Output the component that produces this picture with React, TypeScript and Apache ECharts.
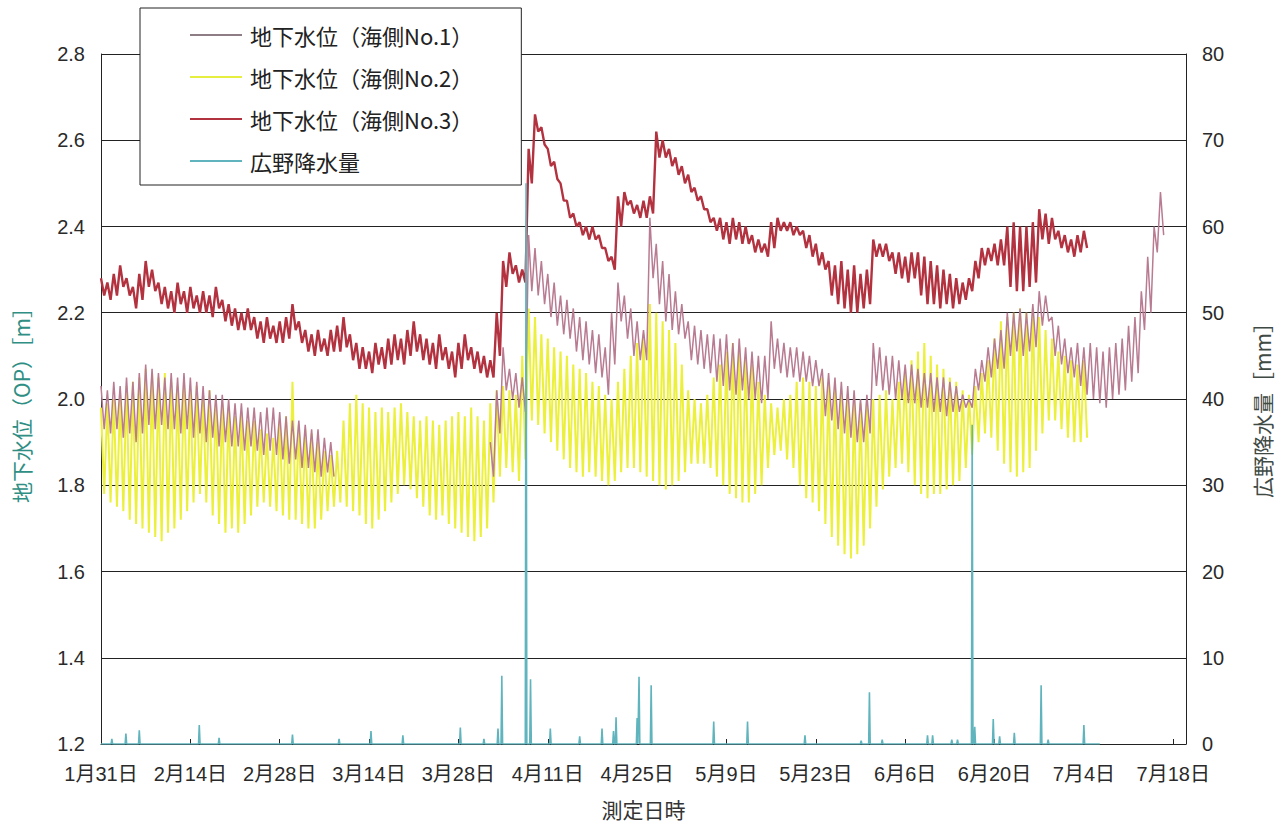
import React, { useEffect, useRef } from "react";
import * as echarts from "echarts";

// Day index 0 = 1月31日; one high/low pair per day (tidal swing).
// null = the No.1 trace is not visible in the chart for that day.
const no1Hi = [
  2.03, 2.02, 2.04, 2.03, 2.05, 2.04, 2.06, 2.08, 2.07, 2.06,
  2.05, 2.06, 2.05, 2.06, 2.05, 2.04, 2.03, 2.02, 2.01, 2.01,
  2.00, 1.99, 1.99, 1.98, 1.98, 1.97, 1.98, 1.98, 1.97, 1.96,
  1.95, 1.95, 1.94, 1.93, 1.93, 1.91, 1.90, null, null, null,
  null, null, null, null, null, null, null, null, null, null,
  null, null, null, null, null, null, null, null, null, null,
  null, 1.90, 2.02, 2.12, 2.07, 2.06, 2.05, 2.38, 2.35, 2.32,
  2.29, 2.27, 2.24, 2.23, 2.21, 2.19, 2.18, 2.16, 2.15, 2.12,
  2.20, 2.27, 2.24, 2.21, 2.18, 2.16, 2.42, 2.36, 2.32, 2.29,
  2.25, 2.22, 2.18, 2.17, 2.16, 2.15, 2.15, 2.14, 2.15, 2.13,
  2.14, 2.12, 2.11, 2.10, 2.10, 2.18, 2.14, 2.13, 2.12, 2.12,
  2.11, 2.10, 2.09, 2.07, 2.06, 2.05, 2.04, 2.03, 2.02, 2.00,
  2.01, 2.13, 2.12, 2.10, 2.10, 2.09, 2.08, 2.08, 2.07, 2.06,
  2.06, 2.05, 2.05, 2.04, 2.03, 2.01, 2.00, 2.07, 2.09, 2.12,
  2.14, 2.16, 2.20, 2.20, 2.21, 2.20, 2.22, 2.25, 2.24, 2.19,
  2.17, 2.14, 2.12, 2.13, 2.12, 2.13, 2.12, 2.11, 2.12, 2.13,
  2.14, 2.17, 2.19, 2.25, 2.33, 2.40, 2.48,
];
const no1Lo = [
  1.93, 1.92, 1.93, 1.91, 1.92, 1.90, 1.92, 1.94, 1.93, 1.94,
  1.93, 1.93, 1.92, 1.93, 1.91, 1.92, 1.90, 1.91, 1.89, 1.90,
  1.89, 1.89, 1.88, 1.89, 1.88, 1.87, 1.88, 1.87, 1.86, 1.85,
  1.86, 1.84, 1.84, 1.83, 1.82, 1.83, 1.82, null, null, null,
  null, null, null, null, null, null, null, null, null, null,
  null, null, null, null, null, null, null, null, null, null,
  null, 1.82, 1.92, 2.02, 2.00, 1.98, 1.97, 2.25, 2.24, 2.22,
  2.19, 2.17, 2.15, 2.14, 2.11, 2.09, 2.08, 2.06, 2.05, 2.01,
  2.08, 2.18, 2.14, 2.10, 2.09, 2.09, 2.28, 2.22, 2.18, 2.16,
  2.15, 2.14, 2.09, 2.08, 2.07, 2.06, 2.04, 2.03, 2.02, 2.01,
  2.02, 2.00, 2.00, 1.99, 2.00, 2.07, 2.06, 2.05, 2.05, 2.04,
  2.04, 2.03, 2.03, 1.96, 1.95, 1.93, 1.92, 1.91, 1.90, 1.90,
  1.92, 2.03, 2.02, 2.01, 2.00, 2.00, 1.99, 1.99, 1.98, 1.98,
  1.97, 1.97, 1.96, 1.97, 1.97, 1.98, 1.98, 2.02, 2.04, 2.05,
  2.07, 2.07, 2.10, 2.11, 2.10, 2.11, 2.12, 2.17, 2.18, 2.10,
  2.08, 2.06, 2.05, 2.03, 2.01, 2.00, 1.99, 1.98, 2.00, 2.01,
  2.02, 2.04, 2.06, 2.16, 2.20, 2.34, 2.38,
];
const no2Hi = [
  1.98, 1.99, 2.00, 2.01, 2.03, 2.04, 2.05, 2.07, 2.06, 2.05,
  2.06, 2.04, 2.03, 2.04, 2.02, 2.03, 2.01, 2.02, 2.00, 1.99,
  1.98, 1.96, 1.97, 1.95, 1.95, 1.93, 1.92, 1.91, 1.95, 1.96,
  2.04, 1.94, 1.93, 1.92, 1.90, 1.88, 1.87, 1.88, 1.95, 1.99,
  2.01, 1.99, 1.98, 1.97, 1.98, 1.97, 1.98, 1.99, 1.97, 1.96,
  1.95, 1.96, 1.95, 1.94, 1.95, 1.96, 1.97, 1.96, 1.98, 1.96,
  1.95, 1.99, 2.02, 2.03, 2.02, 2.01, 2.10, 2.21, 2.19, 2.15,
  2.14, 2.12, 2.11, 2.10, 2.08, 2.07, 2.06, 2.04, 2.03, 2.01,
  2.00, 2.04, 2.07, 2.10, 2.13, 2.15, 2.22, 2.20, 2.18, 2.16,
  2.13, 2.08, 2.02, 2.00, 1.99, 2.01, 2.05, 2.08, 2.11, 2.13,
  2.12, 2.10, 2.08, 2.04, 2.01, 1.99, 1.98, 2.00, 2.01, 2.04,
  2.05, 2.04, 2.03, 2.05, 2.04, 2.03, 2.02, 2.01, 2.00, 1.99,
  1.99, 2.00, 2.01, 2.02, 2.00, 2.04, 2.07, 2.09, 2.11, 2.13,
  2.10, 2.08, 2.07, 2.05, 2.04, 2.02, 2.01, 2.03, 2.06, 2.09,
  2.14, 2.18, 2.19, 2.20, 2.21, 2.20, 2.21, 2.19, 2.16, 2.14,
  2.11, 2.10, 2.09, 2.08, 2.09,
];
const no2Lo = [
  1.78, 1.76, 1.75, 1.74, 1.72, 1.71, 1.70, 1.69, 1.68, 1.67,
  1.69, 1.70, 1.72, 1.74, 1.76, 1.78, 1.76, 1.73, 1.71, 1.69,
  1.70, 1.69, 1.71, 1.73, 1.75, 1.76, 1.75, 1.74, 1.73, 1.72,
  1.72, 1.71, 1.70, 1.70, 1.72, 1.74, 1.75, 1.76, 1.75, 1.74,
  1.73, 1.71, 1.70, 1.72, 1.74, 1.76, 1.78, 1.80, 1.79, 1.77,
  1.75, 1.73, 1.72, 1.73, 1.71, 1.70, 1.69, 1.68, 1.67, 1.68,
  1.70, 1.76, 1.82, 1.84, 1.83, 1.81, 1.86, 1.95, 1.94, 1.92,
  1.90, 1.88, 1.86, 1.84, 1.83, 1.82, 1.83, 1.82, 1.81, 1.80,
  1.81, 1.83, 1.84, 1.84, 1.83, 1.82, 1.81, 1.80, 1.79, 1.80,
  1.81, 1.83, 1.85, 1.85, 1.85, 1.84, 1.82, 1.80, 1.78, 1.77,
  1.76, 1.76, 1.78, 1.80, 1.84, 1.87, 1.88, 1.86, 1.84, 1.80,
  1.77, 1.76, 1.74, 1.71, 1.68, 1.66, 1.64, 1.63, 1.64, 1.66,
  1.70, 1.75, 1.79, 1.82, 1.84, 1.85, 1.83, 1.80, 1.78, 1.77,
  1.78, 1.78, 1.79, 1.80, 1.81, 1.84, 1.87, 1.90, 1.92, 1.91,
  1.88, 1.85, 1.83, 1.82, 1.83, 1.84, 1.88, 1.92, 1.95, 1.95,
  1.93, 1.91, 1.90, 1.90, 1.91,
];
const no3Hi = [
  2.28, 2.27, 2.29, 2.31, 2.28, 2.26, 2.29, 2.32, 2.30, 2.27,
  2.26, 2.25, 2.27, 2.25, 2.26, 2.24, 2.25, 2.24, 2.26, 2.23,
  2.22, 2.21, 2.20, 2.21, 2.19, 2.18, 2.19, 2.17, 2.18, 2.19,
  2.22, 2.18, 2.16, 2.15, 2.16, 2.14, 2.16, 2.17, 2.19, 2.15,
  2.13, 2.12, 2.11, 2.13, 2.12, 2.14, 2.15, 2.14, 2.16, 2.18,
  2.15, 2.14, 2.13, 2.15, 2.12, 2.11, 2.13, 2.15, 2.12, 2.11,
  2.10, 2.09, 2.20, 2.32, 2.34, 2.31, 2.30, 2.58, 2.66, 2.63,
  2.58, 2.55, 2.50, 2.46, 2.43, 2.41, 2.40, 2.40, 2.38, 2.35,
  2.33, 2.47, 2.48, 2.46, 2.45, 2.46, 2.47, 2.62, 2.60, 2.58,
  2.56, 2.54, 2.52, 2.49, 2.47, 2.44, 2.42, 2.42, 2.41, 2.42,
  2.41, 2.40, 2.38, 2.37, 2.36, 2.41, 2.42, 2.41, 2.41, 2.40,
  2.39, 2.38, 2.36, 2.34, 2.32, 2.31, 2.32, 2.30, 2.31, 2.29,
  2.30, 2.37, 2.36, 2.36, 2.34, 2.34, 2.33, 2.34, 2.34, 2.33,
  2.32, 2.31, 2.30, 2.29, 2.28, 2.27, 2.28, 2.32, 2.35, 2.35,
  2.36, 2.37, 2.40, 2.41, 2.40, 2.40, 2.41, 2.44, 2.43, 2.42,
  2.39, 2.38, 2.37, 2.38, 2.39,
];
const no3Lo = [
  2.24, 2.23, 2.24, 2.26, 2.24, 2.21, 2.23, 2.26, 2.25, 2.22,
  2.21, 2.20, 2.22, 2.20, 2.21, 2.20, 2.20, 2.19, 2.21, 2.18,
  2.17, 2.16, 2.16, 2.16, 2.14, 2.13, 2.14, 2.13, 2.13, 2.14,
  2.16, 2.13, 2.11, 2.10, 2.11, 2.10, 2.11, 2.11, 2.12, 2.09,
  2.07, 2.07, 2.06, 2.08, 2.07, 2.08, 2.09, 2.08, 2.10, 2.11,
  2.09, 2.08, 2.07, 2.09, 2.07, 2.05, 2.07, 2.09, 2.07, 2.06,
  2.05, 2.05, 2.10, 2.26, 2.29, 2.27, 2.27, 2.50, 2.62, 2.59,
  2.54, 2.51, 2.46, 2.42, 2.40, 2.38, 2.37, 2.37, 2.35, 2.32,
  2.30, 2.40, 2.45, 2.43, 2.42, 2.42, 2.43, 2.56, 2.56, 2.54,
  2.52, 2.50, 2.48, 2.46, 2.44, 2.41, 2.39, 2.37, 2.36, 2.37,
  2.36, 2.36, 2.34, 2.34, 2.33, 2.35, 2.39, 2.39, 2.38, 2.38,
  2.35, 2.33, 2.31, 2.30, 2.24, 2.22, 2.21, 2.20, 2.20, 2.21,
  2.22, 2.33, 2.33, 2.32, 2.29, 2.28, 2.27, 2.28, 2.24, 2.22,
  2.22, 2.21, 2.22, 2.21, 2.22, 2.23, 2.25, 2.28, 2.31, 2.32,
  2.31, 2.31, 2.26, 2.25, 2.25, 2.26, 2.27, 2.37, 2.36, 2.37,
  2.35, 2.34, 2.33, 2.34, 2.35,
];

// Rainfall events (day index, mm); zero rain between them, record ends at rainEndDay
const rainDay = [
  1.7, 3.9, 6.0, 15.4, 18.5, 30.0, 37.3, 42.3, 47.3, 56.3, 60.0, 62.2, 62.8,
  66.6, 67.3, 70.4, 75.0, 78.5, 80.3, 80.7, 84.0, 84.3, 86.2, 96.0, 101.3,
  110.3, 119.1, 120.4, 122.4, 129.5, 130.3, 133.3, 134.2, 136.5, 136.9, 139.8,
  140.8, 143.1, 147.3, 148.4, 154.0,
];
const rainMm = [
  0.6, 1.2, 1.6, 2.2, 0.7, 1.1, 0.6, 1.5, 1.0, 1.9, 0.6, 1.8, 7.9,
  65, 7.5, 1.8, 0.9, 1.8, 1.5, 3.1, 3.0, 7.8, 6.8, 2.6, 2.6,
  1.0, 0.4, 6.0, 0.5, 1.0, 1.0, 0.5, 0.5, 37, 2.0, 2.9,
  0.9, 1.3, 6.8, 0.5, 2.2,
];
const rainEndDay = 156.5;

const seriesNames = ["地下水位（海側No.1）", "地下水位（海側No.2）", "地下水位（海側No.3）", "広野降水量"];
const leftAxisTitle = "地下水位（OP）［m］";
const rightAxisTitle = "広野降水量［mm］";
const leftTicks = { min: 1.2, max: 2.8, step: 0.2 };
const rightTicks = { min: 0, max: 80, step: 10 };
const xDays = { min: 0, max: 170, step: 14 };

function zigzag(hi: (number | null)[], lo: (number | null)[]) {
  const out: (number | null)[][] = [];
  for (let i = 0; i < hi.length; i++) {
    out.push([i, hi[i]]);
    out.push([i + 0.5, lo[i]]);
  }
  return out;
}

function rainLine() {
  const out: number[][] = [[0, 0]];
  for (let i = 0; i < rainDay.length; i++) {
    out.push([rainDay[i] - 0.12, 0]);
    out.push([rainDay[i], rainMm[i]]);
    out.push([rainDay[i] + 0.12, 0]);
  }
  out.push([rainEndDay, 0]);
  return out;
}

function dayLabel(v: number) {
  if (Math.abs(v % 14) > 1e-6) return "";
  const dt = new Date(2011, 0, 31 + v);
  return `${dt.getMonth() + 1}月${dt.getDate()}日`;
}

const FONT = "'Liberation Sans', 'Noto Sans CJK JP', sans-serif";
const CJK = "'Noto Sans CJK JP', sans-serif";

export default function App() {
  const ref = useRef<HTMLDivElement>(null);
  useEffect(() => {
    if (!ref.current) return;
    const chart = echarts.init(ref.current, undefined, { renderer: "svg" });
    const lineBase = {
      type: "line",
      showSymbol: false,
      symbol: "none",
      connectNulls: false,
      silent: true,
    };
    chart.setOption({
      animation: false,
      backgroundColor: "#ffffff",
      textStyle: { fontFamily: FONT },
      grid: { left: 101, right: 101, top: 54, bottom: 84, containLabel: false },
      graphic: [
        {
          type: "text",
          x: 21,
          y: 400,
          rotation: Math.PI / 2,
          style: {
            text: leftAxisTitle,
            fontSize: 21,
            fontFamily: CJK,
            fill: "#2f8f84",
            align: "center",
            verticalAlign: "middle",
          },
        },
        {
          type: "text",
          x: 1262,
          y: 405,
          rotation: Math.PI / 2,
          style: {
            text: rightAxisTitle,
            fontSize: 21,
            fontFamily: CJK,
            fill: "#3f4a45",
            align: "center",
            verticalAlign: "middle",
          },
        },
      ],
      legend: {
        orient: "vertical",
        left: 140,
        top: 8,
        padding: [16, 48, 13, 50],
        itemGap: 20,
        itemWidth: 52,
        itemHeight: 2,
        icon: "rect",
        backgroundColor: "#ffffff",
        borderColor: "#222222",
        borderWidth: 1,
        textStyle: { fontSize: 22, color: "#222222", fontFamily: CJK, padding: [0, 0, 0, 3] },
        data: seriesNames,
        z: 10,
      },
      xAxis: {
        type: "value",
        min: xDays.min,
        max: xDays.max,
        interval: xDays.step,
        name: "測定日時",
        nameLocation: "middle",
        nameGap: 54,
        nameTextStyle: { fontSize: 21, color: "#333333", fontFamily: CJK },
        axisLine: { show: true, onZero: false, lineStyle: { color: "#222222", width: 1 } },
        axisTick: { show: true, inside: true, length: 5, lineStyle: { color: "#222222" } },
        axisLabel: {
          formatter: dayLabel,
          showMaxLabel: false,
          fontSize: 20,
          color: "#2a2a2a",
          margin: 20,
        },
        splitLine: { show: false },
      },
      yAxis: [
        {
          type: "value",
          min: leftTicks.min,
          max: leftTicks.max,
          interval: leftTicks.step,
          axisLine: { show: true, lineStyle: { color: "#222222", width: 1 } },
          axisTick: { show: false },
          axisLabel: {
            formatter: (v: number) => v.toFixed(1),
            fontSize: 20,
            color: "#2a2a2a",
            margin: 16,
          },
          splitLine: { show: true, lineStyle: { color: "#222222", width: 1 } },
        },
        {
          type: "value",
          min: rightTicks.min,
          max: rightTicks.max,
          interval: rightTicks.step,
          position: "right",
          axisLine: { show: true, lineStyle: { color: "#222222", width: 1 } },
          axisTick: { show: false },
          axisLabel: { fontSize: 20, color: "#2a2a2a", margin: 16 },
          splitLine: { show: false },
        },
      ],
      series: [
        {
          ...lineBase,
          name: seriesNames[0],
          yAxisIndex: 0,
          z: 3,
          data: zigzag(no1Hi, no1Lo),
          lineStyle: { color: "#b87b92", width: 1.5 },
          itemStyle: { color: "#8f7d85" },
        },
        {
          ...lineBase,
          name: seriesNames[1],
          yAxisIndex: 0,
          z: 2,
          data: zigzag(no2Hi, no2Lo),
          lineStyle: { color: "#ecf03c", width: 2 },
          itemStyle: { color: "#e6ee40" },
        },
        {
          ...lineBase,
          name: seriesNames[2],
          yAxisIndex: 0,
          z: 4,
          data: zigzag(no3Hi, no3Lo),
          lineStyle: { color: "#b3323f", width: 2.4 },
          itemStyle: { color: "#b3323f" },
        },
        {
          ...lineBase,
          name: seriesNames[3],
          yAxisIndex: 1,
          z: 5,
          data: rainLine(),
          lineStyle: { color: "#5fb4bd", width: 1.6 },
          itemStyle: { color: "#5fb4bd" },
        },
      ],
    });
    return () => chart.dispose();
  }, []);
  return (
    <div
      ref={ref}
      style={{ position: "absolute", left: 0, top: 0, width: 1287, height: 828, background: "#fff" }}
    />
  );
}
